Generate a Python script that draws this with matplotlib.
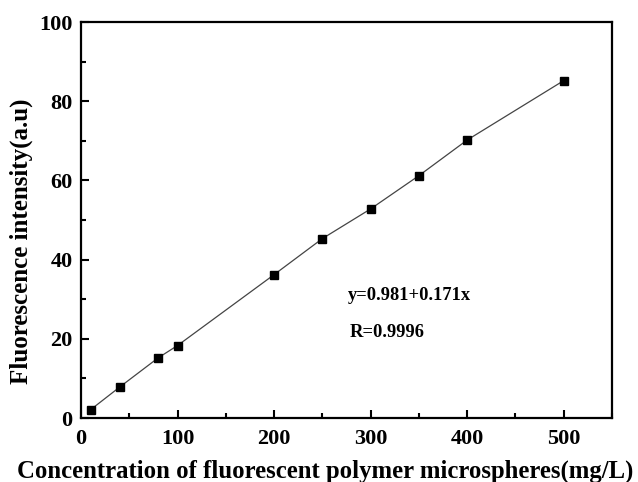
import matplotlib.pyplot as plt
from matplotlib.ticker import MultipleLocator

# concentration (mg/L) and fluorescence intensity
concentration = [10, 40, 80, 100, 200, 250, 300, 350, 400, 500]
intensity = [2.1, 7.8, 15.2, 18.3, 36.2, 45.3, 52.8, 61.2, 70.2, 85.2]

fit_text = "y=0.981+0.171x"
r_text = "R=0.9996"

plt.rcParams['font.family'] = ['Liberation Serif', 'DejaVu Serif']
plt.rcParams['font.weight'] = 'bold'

fig = plt.figure(figsize=(6.38, 4.82), dpi=100)
ax = fig.add_axes([81 / 638, 1 - 418 / 482, (612 - 81) / 638, (418 - 22) / 482])

ax.plot(concentration, intensity, color='#444444', linewidth=0.9,
        marker='s', markersize=5.2, markerfacecolor='black',
        markeredgecolor='black')

ax.set_xlim(0, 550)
ax.set_ylim(0, 100)
ax.xaxis.set_major_locator(MultipleLocator(100))
ax.xaxis.set_minor_locator(MultipleLocator(50))
ax.yaxis.set_major_locator(MultipleLocator(20))
ax.yaxis.set_minor_locator(MultipleLocator(10))
ax.tick_params(which='both', direction='in', top=False, right=False,
               width=1.5, labelsize=16)
ax.tick_params(which='major', length=5.5)
ax.tick_params(which='minor', length=3.6)
ax.tick_params(axis='x', pad=8)
ax.tick_params(axis='y', pad=6)
for lbl in ax.get_xticklabels() + ax.get_yticklabels():
    lbl.set_fontweight('bold')
for sp in ax.spines.values():
    sp.set_linewidth(1.6)

# axis titles placed in figure coords (the reference centres them off the axes)
fig.text(325 / 638, 1 - 478 / 482,
         'Concentration of fluorescent polymer microspheres(mg/L)',
         fontsize=17.8, fontweight='bold', ha='center', va='baseline')
fig.text(21 / 638, 1 - 241 / 482, 'Fluorescence intensity(a.u)',
         fontsize=18, fontweight='bold', rotation=90, ha='center', va='center')

ax.text(276, 31, fit_text, fontsize=13.3, fontweight='bold', va='center')
ax.text(278, 21.7, r_text, fontsize=13.3, fontweight='bold', va='center')

fig.savefig('out.png', dpi=100)
